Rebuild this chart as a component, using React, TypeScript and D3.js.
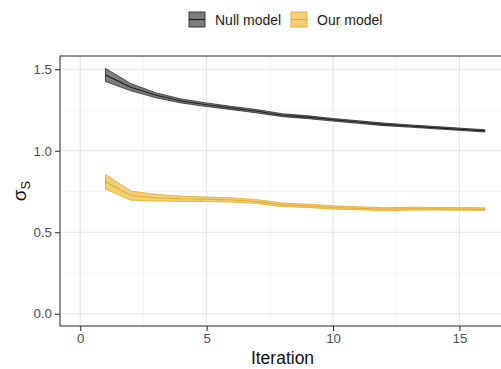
import { useRef, useEffect } from 'react'
import * as d3 from 'd3'

const W = 501
const H = 369
const PANEL = { left: 60, top: 56, right: 505, bottom: 326 }

const ITER = [1, 2, 3, 4, 5, 6, 7, 8, 9, 10, 11, 12, 13, 14, 15, 16]
const NULL_MEAN = [1.465, 1.39, 1.34, 1.305, 1.282, 1.262, 1.242, 1.218, 1.206, 1.19, 1.176, 1.162, 1.152, 1.142, 1.132, 1.122]
const NULL_HALF = [0.04, 0.022, 0.015, 0.012, 0.011, 0.01, 0.01, 0.009, 0.009, 0.008, 0.008, 0.008, 0.007, 0.007, 0.007, 0.007]
const OUR_MEAN = [0.81, 0.725, 0.712, 0.705, 0.702, 0.698, 0.688, 0.668, 0.662, 0.652, 0.647, 0.641, 0.644, 0.644, 0.643, 0.642]
const OUR_HALF = [0.045, 0.028, 0.02, 0.016, 0.014, 0.013, 0.012, 0.011, 0.01, 0.01, 0.009, 0.009, 0.009, 0.008, 0.008, 0.008]

const X_TICKS = [0, 5, 10, 15]
const X_MINOR = [2.5, 7.5, 12.5]
const Y_TICKS = [0, 0.5, 1.0, 1.5]
const Y_MINOR = [0.25, 0.75, 1.25]

const SERIES = [
  { label: 'Null model', mean: NULL_MEAN, half: NULL_HALF, fill: '#666666', edge: '#2a2a2a', line: '#1a1a1a' },
  { label: 'Our model', mean: OUR_MEAN, half: OUR_HALF, fill: '#f3c75e', edge: '#dfa92a', line: '#e2ad2c' },
]

export default function App() {
  const svgRef = useRef<SVGSVGElement>(null)

  useEffect(() => {
    document.body.style.margin = '0'
    const svg = d3.select(svgRef.current)
    svg.selectAll('*').remove()
    const font = '"Liberation Sans", Arial, sans-serif'

    const x = d3.scaleLinear().domain([-0.8, 16.8]).range([PANEL.left, PANEL.right])
    const y = d3.scaleLinear().domain([-0.0753, 1.5813]).range([PANEL.bottom, PANEL.top])

    svg.append('rect').attr('width', W).attr('height', H).attr('fill', '#fff')

    // grid
    X_MINOR.forEach(v => svg.append('line').attr('x1', x(v)).attr('x2', x(v)).attr('y1', PANEL.top).attr('y2', PANEL.bottom).attr('stroke', '#f4f4f4').attr('stroke-width', 0.8))
    Y_MINOR.forEach(v => svg.append('line').attr('x1', PANEL.left).attr('x2', PANEL.right).attr('y1', y(v)).attr('y2', y(v)).attr('stroke', '#f4f4f4').attr('stroke-width', 0.8))
    X_TICKS.forEach(v => svg.append('line').attr('x1', x(v)).attr('x2', x(v)).attr('y1', PANEL.top).attr('y2', PANEL.bottom).attr('stroke', '#e6e6e6').attr('stroke-width', 1.2))
    Y_TICKS.forEach(v => svg.append('line').attr('x1', PANEL.left).attr('x2', PANEL.right).attr('y1', y(v)).attr('y2', y(v)).attr('stroke', '#e6e6e6').attr('stroke-width', 1.2))

    // ribbons + lines
    SERIES.forEach(s => {
      const pts = ITER.map((it, i) => ({ x: it, m: s.mean[i], lo: s.mean[i] - s.half[i], hi: s.mean[i] + s.half[i] }))
      const area = d3.area<any>().x(d => x(d.x)).y0(d => y(d.lo)).y1(d => y(d.hi))
      svg.append('path').datum(pts).attr('d', area).attr('fill', s.fill).attr('fill-opacity', 0.85)
        .attr('stroke', s.edge).attr('stroke-width', 0.8)
      svg.append('path').datum(pts).attr('d', d3.line<any>().x(d => x(d.x)).y(d => y(d.m)))
        .attr('fill', 'none').attr('stroke', s.line).attr('stroke-width', 1.1)
    })

    // panel border
    svg.append('rect').attr('x', PANEL.left).attr('y', PANEL.top)
      .attr('width', PANEL.right - PANEL.left).attr('height', PANEL.bottom - PANEL.top)
      .attr('fill', 'none').attr('stroke', '#4a4a4a').attr('stroke-width', 1.2)

    // axes
    const xAxis = svg.append('g').attr('transform', `translate(0,${PANEL.bottom})`)
      .call(d3.axisBottom(x).tickValues(X_TICKS).tickSize(5).tickPadding(3).tickFormat(d3.format('d')))
    const yAxis = svg.append('g').attr('transform', `translate(${PANEL.left},0)`)
      .call(d3.axisLeft(y).tickValues(Y_TICKS).tickSize(5).tickPadding(3).tickFormat(d3.format('.1f')))
    ;[xAxis, yAxis].forEach(g => {
      g.select('.domain').remove()
      g.selectAll('.tick line').attr('stroke', '#333').attr('stroke-width', 1.1)
      g.selectAll('text').attr('fill', '#4d4d4d').attr('font-size', 13.3).attr('font-family', font)
    })

    // titles
    svg.append('text').attr('x', x(8)).attr('y', 364).attr('text-anchor', 'middle')
      .attr('font-size', 17.5).attr('font-family', font).attr('fill', '#111').text('Iteration')
    const yt = svg.append('text').attr('transform', `translate(26,${(PANEL.top + PANEL.bottom) / 2}) rotate(-90)`)
      .attr('text-anchor', 'middle').attr('font-size', 19).attr('font-family', font).attr('fill', '#111')
    yt.append('tspan').text('σ')
    yt.append('tspan').attr('font-size', 13).attr('dy', 4).text('S')

    // legend
    const lx = [189, 291]
    SERIES.forEach((s, i) => {
      const g = svg.append('g').attr('transform', `translate(${lx[i]},12)`)
      g.append('rect').attr('width', 16).attr('height', 15).attr('fill', s.fill).attr('fill-opacity', 0.85)
        .attr('stroke', s.edge).attr('stroke-width', 0.9)
      g.append('line').attr('x1', 0).attr('x2', 16).attr('y1', 7.5).attr('y2', 7.5).attr('stroke', s.line).attr('stroke-width', 1.1)
      g.append('text').attr('x', 26).attr('y', 13).attr('font-size', 14).attr('font-family', font).attr('fill', '#1a1a1a').text(s.label)
    })
  }, [])

  return (
    <div style={{ position: 'absolute', left: 0, top: 0 }}>
      <svg ref={svgRef} width={W} height={H} />
    </div>
  )
}
